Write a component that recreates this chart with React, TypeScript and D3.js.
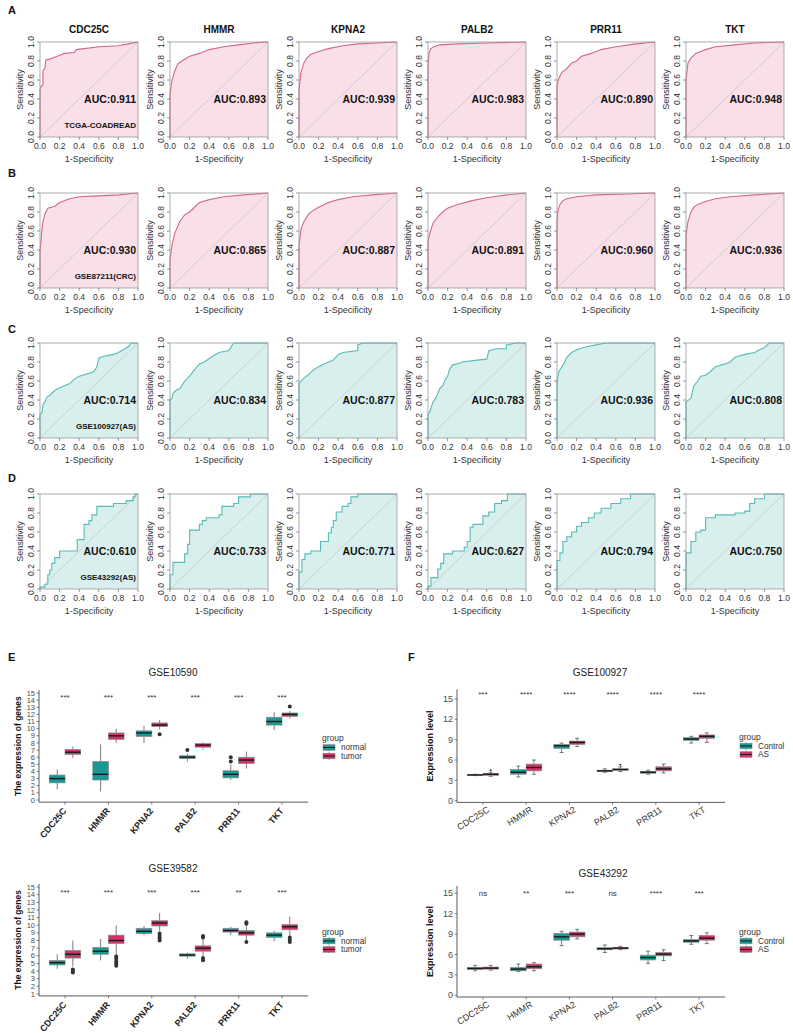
import * as d3 from 'd3';

const FONT = 'Liberation Sans, Arial, Helvetica, sans-serif';

const genes = ['CDC25C', 'HMMR', 'KPNA2', 'PALB2', 'PRR11', 'TKT'];
const rowLabels = ['A', 'B', 'C', 'D'];
const cohorts = ['TCGA-COADREAD', 'GSE87211(CRC)', 'GSE100927(AS)', 'GSE43292(AS)'];
const aucA = ['0.911', '0.893', '0.939', '0.983', '0.890', '0.948'];
const aucB = ['0.930', '0.865', '0.887', '0.891', '0.960', '0.936'];
const aucC = ['0.714', '0.834', '0.877', '0.783', '0.936', '0.808'];
const aucD = ['0.610', '0.733', '0.771', '0.627', '0.794', '0.750'];

type Pt = [number, number];

// ROC curves (1-specificity, sensitivity)
const rocA: Pt[][] = [
  [[0, 0], [0, 0.5], [0.01, 0.53], [0.03, 0.55], [0.03, 0.7], [0.05, 0.72], [0.06, 0.81], [0.1, 0.82], [0.15, 0.84], [0.2, 0.86], [0.25, 0.88], [0.35, 0.89], [0.37, 0.92], [0.45, 0.93], [0.6, 0.95], [0.8, 0.96], [0.9, 0.98], [1, 1]],
  [[0, 0], [0, 0.45], [0.02, 0.6], [0.05, 0.7], [0.08, 0.77], [0.12, 0.8], [0.2, 0.85], [0.3, 0.88], [0.4, 0.92], [0.55, 0.95], [0.7, 0.97], [0.85, 0.99], [1, 1]],
  [[0, 0], [0, 0.5], [0.02, 0.68], [0.05, 0.78], [0.08, 0.83], [0.12, 0.87], [0.2, 0.9], [0.3, 0.93], [0.45, 0.96], [0.6, 0.98], [0.8, 0.99], [1, 1]],
  [[0, 0], [0, 0.75], [0.01, 0.88], [0.03, 0.93], [0.06, 0.95], [0.12, 0.97], [0.3, 0.98], [0.6, 0.99], [1, 1]],
  [[0, 0], [0, 0.55], [0.02, 0.62], [0.05, 0.68], [0.1, 0.72], [0.15, 0.78], [0.2, 0.8], [0.25, 0.85], [0.35, 0.88], [0.45, 0.92], [0.6, 0.95], [0.8, 0.98], [1, 1]],
  [[0, 0], [0, 0.6], [0.02, 0.78], [0.05, 0.83], [0.1, 0.88], [0.2, 0.92], [0.3, 0.95], [0.5, 0.97], [0.7, 0.99], [1, 1]],
];
const rocB: Pt[][] = [
  [[0, 0], [0, 0.38], [0.01, 0.5], [0.02, 0.62], [0.03, 0.7], [0.05, 0.78], [0.08, 0.84], [0.15, 0.86], [0.2, 0.9], [0.3, 0.94], [0.4, 0.96], [0.6, 0.97], [0.8, 0.98], [1, 1]],
  [[0, 0], [0, 0.3], [0.02, 0.45], [0.05, 0.58], [0.1, 0.7], [0.15, 0.77], [0.2, 0.8], [0.25, 0.85], [0.3, 0.9], [0.4, 0.93], [0.55, 0.96], [0.75, 0.98], [1, 1]],
  [[0, 0], [0, 0.45], [0.02, 0.62], [0.05, 0.7], [0.1, 0.78], [0.15, 0.82], [0.2, 0.85], [0.3, 0.9], [0.4, 0.93], [0.55, 0.96], [0.75, 0.98], [1, 1]],
  [[0, 0], [0, 0.5], [0.02, 0.58], [0.05, 0.68], [0.1, 0.75], [0.15, 0.8], [0.2, 0.84], [0.3, 0.88], [0.45, 0.92], [0.6, 0.95], [0.8, 0.98], [1, 1]],
  [[0, 0], [0, 0.7], [0.01, 0.82], [0.03, 0.88], [0.06, 0.92], [0.1, 0.94], [0.2, 0.96], [0.4, 0.98], [0.7, 0.99], [1, 1]],
  [[0, 0], [0, 0.55], [0.02, 0.7], [0.05, 0.8], [0.08, 0.85], [0.12, 0.88], [0.2, 0.91], [0.3, 0.94], [0.45, 0.96], [0.7, 0.98], [1, 1]],
];
const rocC: Pt[][] = [
  [[0, 0], [0, 0.25], [0.02, 0.27], [0.03, 0.35], [0.05, 0.38], [0.07, 0.43], [0.1, 0.45], [0.15, 0.5], [0.2, 0.53], [0.3, 0.57], [0.35, 0.62], [0.4, 0.65], [0.5, 0.68], [0.55, 0.7], [0.58, 0.75], [0.6, 0.84], [0.65, 0.86], [0.7, 0.87], [0.75, 0.88], [0.8, 0.9], [0.85, 0.93], [0.9, 0.96], [0.93, 1], [1, 1]],
  [[0, 0], [0, 0.4], [0.02, 0.42], [0.03, 0.47], [0.06, 0.5], [0.1, 0.52], [0.12, 0.55], [0.15, 0.6], [0.2, 0.65], [0.25, 0.72], [0.3, 0.78], [0.35, 0.8], [0.42, 0.85], [0.5, 0.9], [0.6, 0.92], [0.63, 0.97], [0.65, 1], [1, 1]],
  [[0, 0], [0, 0.57], [0.02, 0.6], [0.05, 0.63], [0.1, 0.67], [0.15, 0.72], [0.2, 0.75], [0.3, 0.8], [0.35, 0.82], [0.4, 0.88], [0.45, 0.9], [0.6, 0.92], [0.6, 0.98], [0.65, 1], [1, 1]],
  [[0, 0], [0, 0.25], [0.02, 0.28], [0.05, 0.38], [0.08, 0.42], [0.12, 0.52], [0.15, 0.55], [0.18, 0.62], [0.2, 0.65], [0.22, 0.72], [0.25, 0.77], [0.3, 0.78], [0.35, 0.8], [0.5, 0.82], [0.6, 0.83], [0.62, 0.92], [0.7, 0.94], [0.8, 0.94], [0.8, 0.98], [0.9, 1], [1, 1]],
  [[0, 0], [0, 0.6], [0.02, 0.7], [0.05, 0.75], [0.08, 0.8], [0.1, 0.85], [0.15, 0.9], [0.2, 0.93], [0.3, 0.96], [0.4, 0.98], [0.5, 1], [1, 1]],
  [[0, 0], [0, 0.38], [0.05, 0.42], [0.08, 0.55], [0.12, 0.6], [0.15, 0.65], [0.2, 0.66], [0.25, 0.7], [0.3, 0.75], [0.4, 0.78], [0.45, 0.8], [0.5, 0.85], [0.6, 0.88], [0.7, 0.9], [0.75, 0.93], [0.8, 0.95], [0.85, 1], [1, 1]],
];
const rocD: Pt[][] = [
  [[0, 0], [0, 0.02], [0.05, 0.02], [0.05, 0.05], [0.08, 0.05], [0.08, 0.15], [0.1, 0.15], [0.1, 0.2], [0.12, 0.2], [0.12, 0.27], [0.15, 0.27], [0.15, 0.33], [0.2, 0.33], [0.2, 0.4], [0.38, 0.4], [0.38, 0.52], [0.45, 0.52], [0.45, 0.68], [0.5, 0.68], [0.5, 0.72], [0.53, 0.72], [0.53, 0.78], [0.58, 0.78], [0.58, 0.87], [0.75, 0.87], [0.75, 0.9], [0.88, 0.9], [0.88, 0.93], [0.95, 0.93], [0.95, 0.97], [0.97, 0.97], [0.97, 1], [1, 1]],
  [[0, 0], [0, 0.15], [0.03, 0.15], [0.03, 0.28], [0.15, 0.28], [0.15, 0.37], [0.18, 0.37], [0.18, 0.47], [0.2, 0.47], [0.2, 0.62], [0.3, 0.62], [0.3, 0.68], [0.33, 0.68], [0.33, 0.72], [0.37, 0.72], [0.37, 0.75], [0.5, 0.75], [0.5, 0.78], [0.53, 0.78], [0.53, 0.87], [0.65, 0.87], [0.65, 0.9], [0.7, 0.9], [0.7, 0.97], [0.82, 0.97], [0.82, 1], [1, 1]],
  [[0, 0], [0, 0.18], [0.03, 0.18], [0.03, 0.31], [0.06, 0.31], [0.06, 0.37], [0.12, 0.37], [0.12, 0.4], [0.22, 0.4], [0.22, 0.5], [0.3, 0.5], [0.3, 0.59], [0.33, 0.59], [0.33, 0.65], [0.35, 0.65], [0.35, 0.72], [0.38, 0.72], [0.38, 0.81], [0.44, 0.81], [0.44, 0.87], [0.5, 0.87], [0.5, 0.9], [0.53, 0.9], [0.53, 0.97], [0.6, 0.97], [0.6, 1], [1, 1]],
  [[0, 0], [0, 0.03], [0.03, 0.03], [0.03, 0.12], [0.1, 0.12], [0.1, 0.21], [0.13, 0.21], [0.13, 0.27], [0.16, 0.27], [0.16, 0.37], [0.25, 0.37], [0.25, 0.4], [0.37, 0.4], [0.37, 0.44], [0.4, 0.44], [0.4, 0.5], [0.43, 0.5], [0.43, 0.65], [0.46, 0.65], [0.46, 0.68], [0.56, 0.68], [0.56, 0.77], [0.62, 0.77], [0.62, 0.81], [0.68, 0.81], [0.68, 0.9], [0.75, 0.9], [0.75, 0.93], [0.81, 0.93], [0.81, 1], [1, 1]],
  [[0, 0], [0, 0.3], [0.03, 0.3], [0.03, 0.38], [0.06, 0.38], [0.06, 0.5], [0.1, 0.5], [0.1, 0.55], [0.15, 0.55], [0.15, 0.6], [0.2, 0.6], [0.2, 0.66], [0.25, 0.66], [0.25, 0.7], [0.32, 0.7], [0.32, 0.75], [0.38, 0.75], [0.38, 0.8], [0.45, 0.8], [0.45, 0.85], [0.55, 0.85], [0.55, 0.9], [0.65, 0.9], [0.65, 0.95], [0.75, 0.95], [0.75, 1], [1, 1]],
  [[0, 0], [0, 0.38], [0.05, 0.38], [0.05, 0.5], [0.1, 0.5], [0.1, 0.6], [0.15, 0.6], [0.15, 0.62], [0.2, 0.62], [0.2, 0.75], [0.3, 0.75], [0.3, 0.78], [0.5, 0.78], [0.5, 0.8], [0.6, 0.8], [0.6, 0.82], [0.65, 0.82], [0.65, 0.9], [0.7, 0.9], [0.7, 0.95], [0.8, 0.95], [0.8, 1], [1, 1]],
];

// box stats [low whisker, q1, median, q3, high whisker]
type Stat = [number, number, number, number, number];
const e1Normal: Stat[] = [[1.5, 2.4, 3.0, 3.5, 4.3], [1.2, 2.8, 3.6, 5.4, 7.8], [8.0, 8.9, 9.4, 9.7, 10.4], [5.4, 5.8, 6.0, 6.2, 6.5], [2.8, 3.1, 3.6, 4.1, 5.0], [9.8, 10.5, 11.0, 11.6, 12.3]];
const e1Tumor: Stat[] = [[5.9, 6.4, 6.7, 7.1, 7.5], [8.0, 8.5, 9.0, 9.4, 10.0], [9.9, 10.3, 10.5, 10.8, 11.2], [7.1, 7.4, 7.7, 7.9, 8.1], [4.4, 5.1, 5.6, 6.0, 6.8], [11.4, 11.7, 12.0, 12.2, 12.5]];
const e1NormalOut: number[][] = [[], [], [], [7.0], [5.4, 6.0], []];
const e1TumorOut: number[][] = [[], [], [9.2], [], [], [13.1]];
const e1Stars = ['***', '***', '***', '***', '***', '***'];

const e2Normal: Stat[] = [[4.3, 4.8, 5.1, 5.4, 6.2], [5.4, 6.2, 6.6, 7.1, 8.2], [8.7, 8.9, 9.2, 9.6, 9.9], [5.6, 5.95, 6.1, 6.25, 6.4], [8.7, 9.1, 9.3, 9.6, 9.8], [7.9, 8.4, 8.7, 9.0, 9.3]];
const e2Tumor: Stat[] = [[4.6, 5.7, 6.2, 6.7, 8.0], [6.0, 7.6, 8.0, 8.7, 10.0], [9.2, 9.9, 10.3, 10.6, 11.6], [6.0, 6.6, 7.0, 7.3, 8.2], [8.1, 8.7, 9.0, 9.3, 9.9], [8.6, 9.4, 9.8, 10.1, 11.1]];
const e2NormalOut: number[][] = [[], [], [], [], [], []];
const e2TumorOut: number[][] = [[3.8, 4.0, 4.2], [4.7, 5.0, 5.3, 5.6, 5.9], [8.0, 8.3, 8.6, 8.9], [5.4, 5.7, 8.4, 8.6], [7.8, 10.2, 10.4], [7.8, 8.1, 8.4]];
const e2Stars = ['***', '***', '***', '***', '**', '***'];

const f1Control: Stat[] = [[3.7, 3.75, 3.8, 3.85, 3.9], [3.5, 3.9, 4.2, 4.6, 5.1], [7.1, 7.7, 8.1, 8.3, 8.5], [4.2, 4.3, 4.4, 4.5, 4.7], [3.9, 4.05, 4.2, 4.3, 4.5], [8.5, 8.9, 9.1, 9.3, 9.5]];
const f1AS: Stat[] = [[3.6, 3.75, 3.9, 4.0, 4.2], [3.9, 4.4, 4.9, 5.4, 6.0], [8.0, 8.3, 8.6, 8.8, 9.2], [4.3, 4.5, 4.6, 4.7, 5.0], [4.1, 4.4, 4.7, 5.0, 5.4], [8.6, 9.2, 9.5, 9.7, 10.0]];
const f1ControlOut: number[][] = [[], [], [], [], [], []];
const f1ASOut: number[][] = [[4.5], [], [], [5.3], [], []];
const f1Stars = ['***', '****', '****', '****', '****', '****'];

const f2Control: Stat[] = [[3.6, 3.8, 3.95, 4.1, 4.4], [3.5, 3.6, 3.85, 4.1, 4.6], [7.3, 8.1, 8.6, 9.1, 9.4], [6.3, 6.7, 6.85, 7.0, 7.4], [4.7, 5.2, 5.55, 5.9, 6.5], [7.5, 7.8, 8.0, 8.2, 8.8]];
const f2AS: Stat[] = [[3.7, 3.85, 4.0, 4.15, 4.4], [3.6, 3.9, 4.2, 4.6, 4.8], [8.3, 8.6, 9.0, 9.3, 9.7], [6.7, 6.8, 6.95, 7.05, 7.2], [5.1, 5.8, 6.05, 6.3, 6.7], [7.6, 8.1, 8.4, 8.8, 9.2]];
const f2ControlOut: number[][] = [[], [], [], [], [], []];
const f2ASOut: number[][] = [[], [], [], [], [], []];
const f2Stars = ['ns', '**', '***', 'ns', '****', '***'];

const eTicks = d3.range(0, 16);
const e2Ticks = d3.range(1, 16);
const fTicks = [0, 3, 6, 9, 12, 15];
const rocTicks = [0, 0.2, 0.4, 0.6, 0.8, 1.0];

const PINK = { line: '#d6668a', fill: '#f8dfe8' };
const TEAL = { line: '#55bdb5', fill: '#d8efed' };
const COL_LEFT = [40, 170, 299, 428, 557, 686];
const ROW_TOP = [42, 193, 343, 494];

function Roc({ x0, y0, pts, auc, color, title, note }: any) {
  const w = 98;
  const h = 95;
  const xs = d3.scaleLinear().domain([0, 1]).range([x0, x0 + w]);
  const ys = d3.scaleLinear().domain([0, 1]).range([y0 + h, y0]);
  const area = d3.area<Pt>().x((d) => xs(d[0])).y0(ys(0)).y1((d) => ys(d[1]));
  const line = d3.line<Pt>().x((d) => xs(d[0])).y((d) => ys(d[1]));
  return (
    <g fontFamily={FONT}>
      <path d={area(pts)!} fill={color.fill} />
      <line x1={xs(0)} y1={ys(0)} x2={xs(1)} y2={ys(1)} stroke="#c8c8c8" strokeWidth={0.8} />
      <path d={line(pts)!} fill="none" stroke={color.line} strokeWidth={1.1} />
      <rect x={x0} y={y0} width={w} height={h} fill="none" stroke="#9a9a9a" strokeWidth={0.8} />
      {rocTicks.map((t) => (
        <g key={'x' + t}>
          <line x1={xs(t)} x2={xs(t)} y1={y0 + h} y2={y0 + h + 3} stroke="#555" strokeWidth={0.6} />
          <text x={xs(t)} y={y0 + h + 12} fontSize={8.5} textAnchor="middle" fill="#333">{t.toFixed(1)}</text>
        </g>
      ))}
      {rocTicks.map((t) => (
        <g key={'y' + t}>
          <line x1={x0} x2={x0 - 3} y1={ys(t)} y2={ys(t)} stroke="#555" strokeWidth={0.6} />
          <text transform={`translate(${x0 - 6},${ys(t)}) rotate(-90)`} fontSize={8.5} textAnchor="middle" fill="#333">{t.toFixed(1)}</text>
        </g>
      ))}
      <text x={x0 + w / 2} y={y0 + h + 25} fontSize={9} textAnchor="middle" fill="#333">1-Specificity</text>
      <text transform={`translate(${x0 - 17},${y0 + h / 2}) rotate(-90)`} fontSize={9} textAnchor="middle" fill="#333">Sensitivity</text>
      <text x={x0 + w - 2} y={ys(0.4) + 4} fontSize={10.5} fontWeight="bold" textAnchor="end" fill="#111">AUC:{auc}</text>
      {note && (
        <text x={x0 + w - 2} y={ys(0.13) + 3} fontSize={8} fontWeight="bold" textAnchor="end" fill="#111">{note}</text>
      )}
      {title && (
        <text x={x0 + w / 2} y={y0 - 9} fontSize={10} fontWeight="bold" textAnchor="middle" fill="#111">{title}</text>
      )}
    </g>
  );
}

function BoxPanel(p: any) {
  const { x0, x1, y, axisTop, axisBottom, ticks, tickSize, g1, g2, o1, o2, stars, starY, title, titleX, titleY,
    ylabel, ylabelX, legendX, legendY, names, style } = p;
  const band = (x1 - x0) / 6.2;
  const xc = d3.scalePoint().domain(genes).range([x0 + band * 0.6, x1 - band * 0.6]);
  const bw = band * 0.36;
  const cols = ['#189a94', '#cf3469'];
  const isE = style === 'E';
  const yMid = (y(axisTop) + y(axisBottom)) / 2;
  const drawBox = (s: Stat, cx: number, fill: string, outs: number[], key: string) => (
    <g key={key}>
      <line x1={cx} x2={cx} y1={y(s[0])} y2={y(s[1])} stroke="#444" strokeWidth={0.7} />
      <line x1={cx} x2={cx} y1={y(s[3])} y2={y(s[4])} stroke="#444" strokeWidth={0.7} />
      {!isE && (
        <g>
          <line x1={cx - 2} x2={cx + 2} y1={y(s[0])} y2={y(s[0])} stroke="#444" strokeWidth={0.7} />
          <line x1={cx - 2} x2={cx + 2} y1={y(s[4])} y2={y(s[4])} stroke="#444" strokeWidth={0.7} />
        </g>
      )}
      <rect x={cx - bw / 2} y={y(s[3])} width={bw} height={Math.max(0.8, y(s[1]) - y(s[3]))} fill={fill} stroke="#8a8a8a" strokeWidth={0.7} />
      <line x1={cx - bw / 2} x2={cx + bw / 2} y1={y(s[2])} y2={y(s[2])} stroke="#1a1a1a" strokeWidth={1.4} />
      {outs.map((v, i) => (
        <circle key={i} cx={cx} cy={y(v)} r={isE ? 2 : 1} fill="#333" />
      ))}
    </g>
  );
  return (
    <g fontFamily={FONT}>
      <text x={titleX} y={titleY} fontSize={10} textAnchor="middle" fill="#222">{title}</text>
      <line x1={x0} x2={x0} y1={y(axisTop)} y2={y(axisBottom)} stroke="#333" strokeWidth={0.8} />
      <line x1={x0} x2={x1} y1={y(axisBottom)} y2={y(axisBottom)} stroke="#333" strokeWidth={0.8} />
      {ticks.map((t: number) => (
        <g key={t}>
          <line x1={x0 - 2.5} x2={x0} y1={y(t)} y2={y(t)} stroke="#333" strokeWidth={0.6} />
          <text x={x0 - 4} y={y(t)} dy="0.35em" fontSize={tickSize} textAnchor="end" fill="#4d4d4d">{t}</text>
        </g>
      ))}
      <text transform={`translate(${ylabelX},${yMid}) rotate(-90)`} fontSize={isE ? 8.5 : 9} fontWeight="bold" textAnchor="middle" fill="#111">{ylabel}</text>
      {genes.map((g, i) => {
        const c = xc(g)!;
        return (
          <g key={g}>
            {drawBox(g1[i], c - band * 0.18, cols[0], o1[i], 'a')}
            {drawBox(g2[i], c + band * 0.18, cols[1], o2[i], 'b')}
            <text x={c} y={starY} fontSize={8} textAnchor="middle" fill="#333">{stars[i]}</text>
            <line x1={c} x2={c} y1={y(axisBottom)} y2={y(axisBottom) + 2.5} stroke="#333" strokeWidth={0.6} />
            {isE ? (
              <text transform={`translate(${c + 2},${y(axisBottom) + 9}) rotate(-50)`} fontSize={9} fontWeight="bold" textAnchor="end" fill="#222">{g}</text>
            ) : (
              <text transform={`translate(${c + 7},${y(axisBottom) + 9}) rotate(-32)`} fontSize={9} textAnchor="end" fill="#333">{g}</text>
            )}
          </g>
        );
      })}
      <text x={legendX} y={legendY} fontSize={8.5} fill="#333">group</text>
      {names.map((n: string, i: number) => {
        const ky = legendY + 6.5 + i * 8.5;
        return (
          <g key={n}>
            <line x1={legendX + 7} x2={legendX + 7} y1={ky - 3.8} y2={ky + 3.8} stroke="#555" strokeWidth={0.6} />
            <rect x={legendX + 1} y={ky - 2.8} width={12} height={5.6} fill={cols[i]} stroke="#8a8a8a" strokeWidth={0.6} />
            <line x1={legendX + 1} x2={legendX + 13} y1={ky} y2={ky} stroke="#1a1a1a" strokeWidth={1} />
            <text x={legendX + 19} y={ky} dy="0.33em" fontSize={8.2} fill="#333">{n}</text>
          </g>
        );
      })}
    </g>
  );
}

export default function App() {
  const rocRows = [rocA, rocB, rocC, rocD];
  const aucRows = [aucA, aucB, aucC, aucD];
  const yE1 = d3.scaleLinear().domain([0, 15]).range([800, 693]);
  const yE2 = d3.scaleLinear().domain([1, 15]).range([994, 887]);
  const yF1 = d3.scaleLinear().domain([0, 15]).range([800.7, 699]);
  const yF2 = d3.scaleLinear().domain([0, 15]).range([995.3, 893.3]);
  return (
    <svg width={793} height={1033} style={{ position: 'absolute', left: 0, top: 0, background: '#fff' }}>
      <rect width={793} height={1033} fill="#fff" />
      {rocRows.map((row, r) => (
        <g key={r}>
          <text x={8} y={[14, 177, 333, 482][r]} fontSize={11} fontWeight="bold" fontFamily={FONT} fill="#111">{rowLabels[r]}</text>
          {row.map((pts, c) => (
            <Roc key={c} x0={COL_LEFT[c]} y0={ROW_TOP[r]} pts={pts} auc={aucRows[r][c]}
              color={r < 2 ? PINK : TEAL} title={r === 0 ? genes[c] : null} note={c === 0 ? cohorts[r] : null} />
          ))}
        </g>
      ))}
      <text x={8} y={661} fontSize={11} fontWeight="bold" fontFamily={FONT} fill="#111">E</text>
      <text x={408} y={661} fontSize={11} fontWeight="bold" fontFamily={FONT} fill="#111">F</text>
      <BoxPanel style="E" x0={39} x1={308} y={yE1} axisTop={15.4} axisBottom={-0.3} ticks={eTicks} tickSize={7.5}
        g1={e1Normal} g2={e1Tumor} o1={e1NormalOut} o2={e1TumorOut} stars={e1Stars} starY={700}
        title="GSE10590" titleX={173} titleY={676} ylabel="The expression of genes" ylabelX={21}
        legendX={322} legendY={741} names={['normal', 'tumor']} />
      <BoxPanel style="E" x0={39} x1={308} y={yE2} axisTop={15.4} axisBottom={0.75} ticks={e2Ticks} tickSize={7.5}
        g1={e2Normal} g2={e2Tumor} o1={e2NormalOut} o2={e2TumorOut} stars={e2Stars} starY={895}
        title="GSE39582" titleX={173} titleY={872} ylabel="The expression of genes" ylabelX={21}
        legendX={322} legendY={934.5} names={['normal', 'tumor']} />
      <BoxPanel style="F" x0={457} x1={725} y={yF1} axisTop={16.4} axisBottom={-0.25} ticks={fTicks} tickSize={9}
        g1={f1Control} g2={f1AS} o1={f1ControlOut} o2={f1ASOut} stars={f1Stars} starY={697}
        title="GSE100927" titleX={600} titleY={676} ylabel="Expression level" ylabelX={433}
        legendX={739} legendY={739.5} names={['Control', 'AS']} />
      <BoxPanel style="F" x0={457} x1={725} y={yF2} axisTop={16.1} axisBottom={-0.25} ticks={fTicks} tickSize={9}
        g1={f2Control} g2={f2AS} o1={f2ControlOut} o2={f2ASOut} stars={f2Stars} starY={896}
        title="GSE43292" titleX={603} titleY={877} ylabel="Expression level" ylabelX={433}
        legendX={739} legendY={934.5} names={['Control', 'AS']} />
    </svg>
  );
}
